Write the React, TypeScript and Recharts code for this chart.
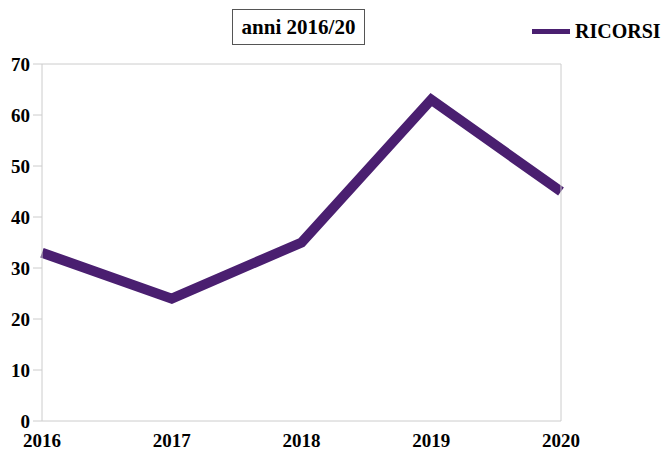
import { LineChart, Line, XAxis, YAxis, CartesianGrid } from "recharts";

const years = ["2016", "2017", "2018", "2019", "2020"];
const ricorsi = [33, 24, 35, 63, 45];
const yTicks = [0, 10, 20, 30, 40, 50, 60, 70];

const data = years.map((year, i) => ({ year, ricorsi: ricorsi[i] }));

const PURPLE = "#4a1f70";
const font = { fontFamily: "'Liberation Serif', serif", fontWeight: 700, fill: "#000", fontSize: 19 };

export default function App() {
  return (
    <div style={{ position: "absolute", left: 0, top: 0, width: 663, height: 450, background: "#fff" }}>
      <div
        style={{
          position: "absolute", left: 232, top: 9, width: 131, height: 34,
          border: "1px solid #555", display: "flex", alignItems: "center", justifyContent: "center",
          fontFamily: "'Liberation Serif', serif", fontWeight: 700, fontSize: 21, zIndex: 2,
        }}
      >
        anni 2016/20
      </div>
      {/* legend */}
      <div
        style={{
          position: "absolute", left: 532, top: 20, display: "flex", alignItems: "center",
          fontFamily: "'Liberation Serif', serif", fontWeight: 700, fontSize: 20, color: "#000", zIndex: 2,
        }}
      >
        <span style={{ display: "inline-block", width: 38, height: 5, background: PURPLE, marginRight: 5 }} />
        RICORSI
      </div>
      <LineChart width={663} height={450} data={data} margin={{ top: 64, right: 62, bottom: 0, left: 0 }}>
        <CartesianGrid vertical={false} stroke="#cccccc" />
        <XAxis
          dataKey="year"
          axisLine={false}
          tickLine={false}
          tickSize={0}
          tickMargin={13}
          height={29}
          interval={0}
          tick={font}
        />
        <YAxis
          yAxisId="left"
          domain={[0, 70]}
          ticks={yTicks}
          width={42}
          tickSize={9}
          tickMargin={3}
          axisLine={{ stroke: "#cccccc" }}
          tickLine={{ stroke: "#cccccc" }}
          tick={font}
        />
        <YAxis
          yAxisId="right"
          orientation="right"
          domain={[0, 70]}
          ticks={yTicks}
          width={40}
          tickSize={9}
          tickMargin={3}
          axisLine={{ stroke: "#cccccc" }}
          tickLine={{ stroke: "#cccccc" }}
          tick={font}
        />
        <Line
          yAxisId="left"
          type="linear"
          dataKey="ricorsi"
          name="RICORSI"
          stroke={PURPLE}
          strokeWidth={10}
          strokeLinejoin="miter"
          dot={false}
          activeDot={false}
          isAnimationActive={false}
        />
      </LineChart>
    </div>
  );
}
